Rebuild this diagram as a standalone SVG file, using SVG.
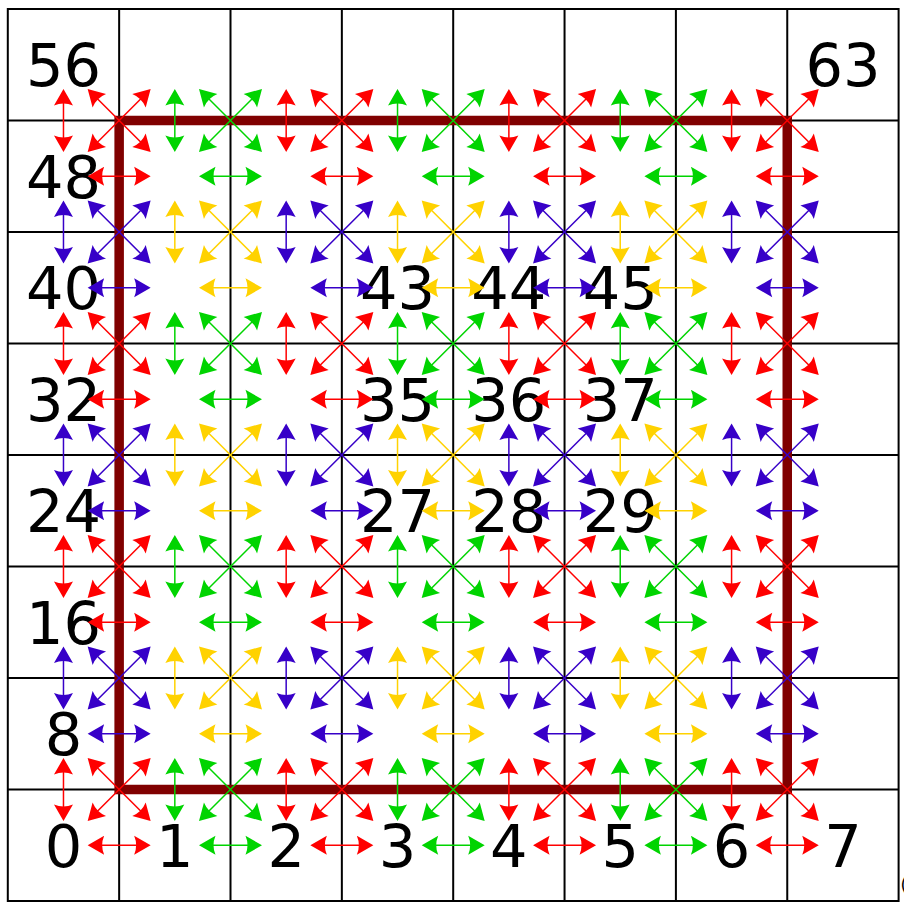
<svg xmlns="http://www.w3.org/2000/svg" width="904" height="909" viewBox="0 0 904 909">
<style>
.grid{stroke:#000;stroke-width:2;fill:none}
.sq{stroke:#800000;stroke-width:9.5;fill:none;stroke-linejoin:miter}
.lbl{font-family:"DejaVu Sans","Liberation Sans",sans-serif;font-size:59px;text-anchor:middle;fill:#000}
.r{fill:#ff0000;stroke:#ff0000}
.g{fill:#00d400;stroke:#00d400}
.b{fill:#3700c8;stroke:#3700c8}
.y{fill:#ffd200;stroke:#ffd200}
</style>
<defs>
<g id="H"><path d="M-22,0H22" fill="none"/><path d="M-31.5,0L-15,-9.5Q-19,0-15,9.5ZM31.5,0L15,-9.5Q19,0 15,9.5Z" stroke="none"/></g>
<g id="V"><use href="#H" transform="rotate(90)"/></g>
<g id="D"><path d="M-35,0H35" fill="none"/><path d="M-44.55,0L-28.05,-9.5Q-32.05,0-28.05,9.5ZM44.55,0L28.05,-9.5Q32.05,0 28.05,9.5Z" stroke="none"/></g>
<g id="X"><use href="#D" transform="rotate(45)"/><use href="#D" transform="rotate(-45)"/></g>
</defs>
<rect width="904" height="909" fill="#fff"/>
<g id="grid" class="grid">
<rect x="7.8" y="9" width="890.8" height="892"/>
<path d="M119.15,9V901M230.5,9V901M341.85,9V901M453.2,9V901M564.55,9V901M675.9,9V901M787.25,9V901"/>
<path d="M7.8,120.5H898.6M7.8,232H898.6M7.8,343.5H898.6M7.8,455H898.6M7.8,566.5H898.6M7.8,678H898.6M7.8,789.5H898.6"/>
</g>
<g id="square"><rect class="sq" x="119.15" y="120.5" width="668.1" height="669"/></g>
<g id="labels" class="lbl">
<g id="n0"><text x="63.475" y="866.75">0</text></g>
<g id="n1"><text x="174.825" y="866.75">1</text></g>
<g id="n2"><text x="286.175" y="866.75">2</text></g>
<g id="n3"><text x="397.525" y="866.75">3</text></g>
<g id="n4"><text x="508.875" y="866.75">4</text></g>
<g id="n5"><text x="620.225" y="866.75">5</text></g>
<g id="n6"><text x="731.575" y="866.75">6</text></g>
<g id="n7"><text x="842.925" y="866.75">7</text></g>
<g id="n8"><text x="63.475" y="755.25">8</text></g>
<g id="n16"><text x="63.475" y="643.75">16</text></g>
<g id="n24"><text x="63.475" y="532.25">24</text></g>
<g id="n32"><text x="63.475" y="420.75">32</text></g>
<g id="n40"><text x="63.475" y="309.25">40</text></g>
<g id="n48"><text x="63.475" y="197.75">48</text></g>
<g id="n56"><text x="63.475" y="86.25">56</text></g>
<g id="n63"><text x="842.925" y="86.25">63</text></g>
<g id="n27"><text x="397.525" y="532.25">27</text></g>
<g id="n28"><text x="508.875" y="532.25">28</text></g>
<g id="n29"><text x="620.225" y="532.25">29</text></g>
<g id="n35"><text x="397.525" y="420.75">35</text></g>
<g id="n36"><text x="508.875" y="420.75">36</text></g>
<g id="n37"><text x="620.225" y="420.75">37</text></g>
<g id="n43"><text x="397.525" y="309.25">43</text></g>
<g id="n44"><text x="508.875" y="309.25">44</text></g>
<g id="n45"><text x="620.225" y="309.25">45</text></g>
</g>
<text x="900.5" y="891" font-family="DejaVu Sans, sans-serif" font-size="17">(</text>
<g id="connectors" stroke-width="1.5">
<g id="horizontal">
<use href="#H" x="119.15" y="845.25" class="r"/><use href="#H" x="230.5" y="845.25" class="g"/><use href="#H" x="341.85" y="845.25" class="r"/><use href="#H" x="453.2" y="845.25" class="g"/><use href="#H" x="564.55" y="845.25" class="r"/><use href="#H" x="675.9" y="845.25" class="g"/><use href="#H" x="787.25" y="845.25" class="r"/>
<use href="#H" x="119.15" y="733.75" class="b"/><use href="#H" x="230.5" y="733.75" class="y"/><use href="#H" x="341.85" y="733.75" class="b"/><use href="#H" x="453.2" y="733.75" class="y"/><use href="#H" x="564.55" y="733.75" class="b"/><use href="#H" x="675.9" y="733.75" class="y"/><use href="#H" x="787.25" y="733.75" class="b"/>
<use href="#H" x="119.15" y="622.25" class="r"/><use href="#H" x="230.5" y="622.25" class="g"/><use href="#H" x="341.85" y="622.25" class="r"/><use href="#H" x="453.2" y="622.25" class="g"/><use href="#H" x="564.55" y="622.25" class="r"/><use href="#H" x="675.9" y="622.25" class="g"/><use href="#H" x="787.25" y="622.25" class="r"/>
<use href="#H" x="119.15" y="510.75" class="b"/><use href="#H" x="230.5" y="510.75" class="y"/><use href="#H" x="341.85" y="510.75" class="b"/><use href="#H" x="453.2" y="510.75" class="y"/><use href="#H" x="564.55" y="510.75" class="b"/><use href="#H" x="675.9" y="510.75" class="y"/><use href="#H" x="787.25" y="510.75" class="b"/>
<use href="#H" x="119.15" y="399.25" class="r"/><use href="#H" x="230.5" y="399.25" class="g"/><use href="#H" x="341.85" y="399.25" class="r"/><use href="#H" x="453.2" y="399.25" class="g"/><use href="#H" x="564.55" y="399.25" class="r"/><use href="#H" x="675.9" y="399.25" class="g"/><use href="#H" x="787.25" y="399.25" class="r"/>
<use href="#H" x="119.15" y="287.75" class="b"/><use href="#H" x="230.5" y="287.75" class="y"/><use href="#H" x="341.85" y="287.75" class="b"/><use href="#H" x="453.2" y="287.75" class="y"/><use href="#H" x="564.55" y="287.75" class="b"/><use href="#H" x="675.9" y="287.75" class="y"/><use href="#H" x="787.25" y="287.75" class="b"/>
<use href="#H" x="119.15" y="176.25" class="r"/><use href="#H" x="230.5" y="176.25" class="g"/><use href="#H" x="341.85" y="176.25" class="r"/><use href="#H" x="453.2" y="176.25" class="g"/><use href="#H" x="564.55" y="176.25" class="r"/><use href="#H" x="675.9" y="176.25" class="g"/><use href="#H" x="787.25" y="176.25" class="r"/>
</g>
<g id="vertical">
<use href="#V" x="63.475" y="789.5" class="r"/><use href="#V" x="174.825" y="789.5" class="g"/><use href="#V" x="286.175" y="789.5" class="r"/><use href="#V" x="397.525" y="789.5" class="g"/><use href="#V" x="508.875" y="789.5" class="r"/><use href="#V" x="620.225" y="789.5" class="g"/><use href="#V" x="731.575" y="789.5" class="r"/>
<use href="#V" x="63.475" y="678" class="b"/><use href="#V" x="174.825" y="678" class="y"/><use href="#V" x="286.175" y="678" class="b"/><use href="#V" x="397.525" y="678" class="y"/><use href="#V" x="508.875" y="678" class="b"/><use href="#V" x="620.225" y="678" class="y"/><use href="#V" x="731.575" y="678" class="b"/>
<use href="#V" x="63.475" y="566.5" class="r"/><use href="#V" x="174.825" y="566.5" class="g"/><use href="#V" x="286.175" y="566.5" class="r"/><use href="#V" x="397.525" y="566.5" class="g"/><use href="#V" x="508.875" y="566.5" class="r"/><use href="#V" x="620.225" y="566.5" class="g"/><use href="#V" x="731.575" y="566.5" class="r"/>
<use href="#V" x="63.475" y="455" class="b"/><use href="#V" x="174.825" y="455" class="y"/><use href="#V" x="286.175" y="455" class="b"/><use href="#V" x="397.525" y="455" class="y"/><use href="#V" x="508.875" y="455" class="b"/><use href="#V" x="620.225" y="455" class="y"/><use href="#V" x="731.575" y="455" class="b"/>
<use href="#V" x="63.475" y="343.5" class="r"/><use href="#V" x="174.825" y="343.5" class="g"/><use href="#V" x="286.175" y="343.5" class="r"/><use href="#V" x="397.525" y="343.5" class="g"/><use href="#V" x="508.875" y="343.5" class="r"/><use href="#V" x="620.225" y="343.5" class="g"/><use href="#V" x="731.575" y="343.5" class="r"/>
<use href="#V" x="63.475" y="232" class="b"/><use href="#V" x="174.825" y="232" class="y"/><use href="#V" x="286.175" y="232" class="b"/><use href="#V" x="397.525" y="232" class="y"/><use href="#V" x="508.875" y="232" class="b"/><use href="#V" x="620.225" y="232" class="y"/><use href="#V" x="731.575" y="232" class="b"/>
<use href="#V" x="63.475" y="120.5" class="r"/><use href="#V" x="174.825" y="120.5" class="g"/><use href="#V" x="286.175" y="120.5" class="r"/><use href="#V" x="397.525" y="120.5" class="g"/><use href="#V" x="508.875" y="120.5" class="r"/><use href="#V" x="620.225" y="120.5" class="g"/><use href="#V" x="731.575" y="120.5" class="r"/>
</g>
<g id="diagonal">
<use href="#X" x="119.15" y="789.5" class="r"/><use href="#X" x="230.5" y="789.5" class="g"/><use href="#X" x="341.85" y="789.5" class="r"/><use href="#X" x="453.2" y="789.5" class="g"/><use href="#X" x="564.55" y="789.5" class="r"/><use href="#X" x="675.9" y="789.5" class="g"/><use href="#X" x="787.25" y="789.5" class="r"/>
<use href="#X" x="119.15" y="678" class="b"/><use href="#X" x="230.5" y="678" class="y"/><use href="#X" x="341.85" y="678" class="b"/><use href="#X" x="453.2" y="678" class="y"/><use href="#X" x="564.55" y="678" class="b"/><use href="#X" x="675.9" y="678" class="y"/><use href="#X" x="787.25" y="678" class="b"/>
<use href="#X" x="119.15" y="566.5" class="r"/><use href="#X" x="230.5" y="566.5" class="g"/><use href="#X" x="341.85" y="566.5" class="r"/><use href="#X" x="453.2" y="566.5" class="g"/><use href="#X" x="564.55" y="566.5" class="r"/><use href="#X" x="675.9" y="566.5" class="g"/><use href="#X" x="787.25" y="566.5" class="r"/>
<use href="#X" x="119.15" y="455" class="b"/><use href="#X" x="230.5" y="455" class="y"/><use href="#X" x="341.85" y="455" class="b"/><use href="#X" x="453.2" y="455" class="y"/><use href="#X" x="564.55" y="455" class="b"/><use href="#X" x="675.9" y="455" class="y"/><use href="#X" x="787.25" y="455" class="b"/>
<use href="#X" x="119.15" y="343.5" class="r"/><use href="#X" x="230.5" y="343.5" class="g"/><use href="#X" x="341.85" y="343.5" class="r"/><use href="#X" x="453.2" y="343.5" class="g"/><use href="#X" x="564.55" y="343.5" class="r"/><use href="#X" x="675.9" y="343.5" class="g"/><use href="#X" x="787.25" y="343.5" class="r"/>
<use href="#X" x="119.15" y="232" class="b"/><use href="#X" x="230.5" y="232" class="y"/><use href="#X" x="341.85" y="232" class="b"/><use href="#X" x="453.2" y="232" class="y"/><use href="#X" x="564.55" y="232" class="b"/><use href="#X" x="675.9" y="232" class="y"/><use href="#X" x="787.25" y="232" class="b"/>
<use href="#X" x="119.15" y="120.5" class="r"/><use href="#X" x="230.5" y="120.5" class="g"/><use href="#X" x="341.85" y="120.5" class="r"/><use href="#X" x="453.2" y="120.5" class="g"/><use href="#X" x="564.55" y="120.5" class="r"/><use href="#X" x="675.9" y="120.5" class="g"/><use href="#X" x="787.25" y="120.5" class="r"/>
</g>
</g>
</svg>
